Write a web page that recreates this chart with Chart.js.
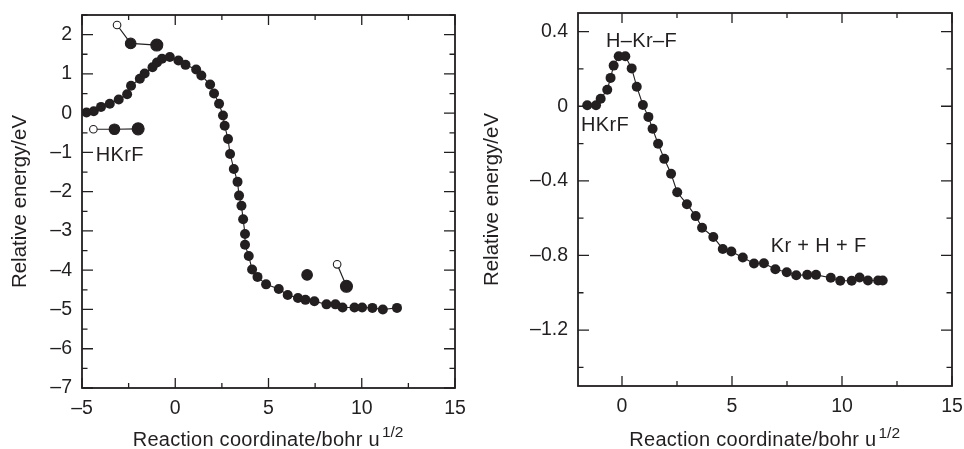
<!DOCTYPE html>
<html>
<head>
<meta charset="utf-8">
<title>HKrF reaction path</title>
<script src="https://cdn.jsdelivr.net/npm/chart.js@4"></script>
<style>
  html, body { margin: 0; padding: 0; background: #fff; }
  canvas { position: absolute; top: 0; }
  #leftChart { left: 0; }
  #rightChart { left: 470px; }
</style>
</head>
<body>
<canvas id="leftChart" width="470" height="449"></canvas>
<canvas id="rightChart" width="494" height="449"></canvas>
<script>
var ink = '#231f20';
var fontName = '"Liberation Sans", Arial, sans-serif';

// left panel, reaction path
var leftX = [-4.76, -4.37, -3.98, -3.51, -3.03, -2.58, -2.37, -1.90, -1.64, -1.22, -0.98, -0.71, -0.29, 0.17, 0.55, 1.12, 1.40, 1.87, 2.08, 2.35, 2.56, 2.65, 2.83, 2.94, 3.14, 3.34, 3.42, 3.55, 3.64, 3.74, 3.74, 3.94, 4.12, 4.41, 4.87, 5.55, 6.03, 6.58, 6.98, 7.46, 8.11, 8.59, 8.97, 9.61, 10.02, 10.57, 11.13, 11.89];
var leftY = [0.015, 0.05, 0.16, 0.24, 0.35, 0.48, 0.70, 0.875, 1.01, 1.17, 1.29, 1.385, 1.43, 1.34, 1.23, 1.11, 0.96, 0.73, 0.50, 0.24, -0.06, -0.32, -0.66, -1.04, -1.42, -1.75, -2.10, -2.36, -2.70, -3.08, -3.35, -3.64, -3.98, -4.17, -4.36, -4.48, -4.63, -4.71, -4.755, -4.79, -4.87, -4.87, -4.95, -4.95, -4.95, -4.96, -5.00, -4.96];

// left panel, little molecule sketches
var bentX = [-3.12, -2.39, -0.99];
var bentY = [2.245, 1.775, 1.735];
var linearX = [-4.39, -3.26, -1.99];
var linearY = [-0.41, -0.41, -0.40];
var krAtomX = [7.07];
var krAtomY = [-4.12];
var hfX = [8.68, 9.18];
var hfY = [-3.85, -4.41];

// right panel, reaction path
var rightX = [-1.58, -1.18, -0.97, -0.67, -0.52, -0.38, -0.15, 0.15, 0.44, 0.67, 0.95, 1.20, 1.39, 1.64, 1.92, 2.23, 2.51, 2.95, 3.35, 3.64, 4.15, 4.58, 4.97, 5.49, 6.00, 6.45, 6.97, 7.49, 7.92, 8.42, 8.82, 9.49, 9.92, 10.44, 10.80, 11.18, 11.64, 11.85];
var rightY = [0.005, 0.005, 0.04, 0.088, 0.152, 0.218, 0.268, 0.268, 0.203, 0.105, 0.007, -0.057, -0.121, -0.201, -0.282, -0.362, -0.461, -0.525, -0.589, -0.651, -0.701, -0.765, -0.779, -0.811, -0.843, -0.842, -0.874, -0.890, -0.906, -0.904, -0.904, -0.920, -0.936, -0.936, -0.918, -0.934, -0.934, -0.934];

var leftNotes = [
  { text: 'HKrF', x: -4.26, y: -1.09 }
];
var rightNotes = [
  { text: 'H\u2013Kr\u2013F', x: -0.73, y: 0.347 },
  { text: 'HKrF', x: -1.86, y: -0.103 },
  { text: 'Kr + H + F', x: 6.76, y: -0.752 }
];

var yTitle = 'Relative energy/eV';
var xTitle = 'Reaction coordinate/bohr u';
var xTitleSup = '1/2';

function pairs(xs, ys) {
  return xs.map(function (x, i) { return { x: x, y: ys[i] }; });
}

function curve(xs, ys) {
  return { data: pairs(xs, ys), showLine: true, borderColor: ink, borderWidth: 1.1, backgroundColor: ink,
    pointRadius: 5, pointBorderWidth: 0, pointBackgroundColor: ink, tension: 0 };
}

// atoms: H is open, Kr medium, F biggest
function molecule(xs, ys, radii, fills) {
  return { data: pairs(xs, ys), showLine: true, borderColor: ink, borderWidth: 1.2, tension: 0,
    pointRadius: radii, pointBackgroundColor: fills, pointBorderColor: ink, pointBorderWidth: 1.1 };
}

function isMultiple(v, step) {
  return Math.abs(v / step - Math.round(v / step)) < 1e-6;
}

function framePlugin(notes, cfg) {
  return {
    id: 'frame',
    afterDatasetsDraw: function (chart) {
      var c = chart.ctx, a = chart.chartArea;
      var sx = chart.scales.x, sy = chart.scales.y;
      c.save();
      c.strokeStyle = ink;
      c.fillStyle = ink;
      c.lineWidth = 1.3;
      c.beginPath();
      // inward ticks on all four sides
      sx.ticks.forEach(function (t) {
        if (!isMultiple(t.value, cfg.xMinor)) return;
        var len = t.label ? 10 : 5;
        var px = sx.getPixelForValue(t.value);
        c.moveTo(px, a.bottom); c.lineTo(px, a.bottom - len);
        c.moveTo(px, a.top); c.lineTo(px, a.top + len);
      });
      sy.ticks.forEach(function (t) {
        if (!isMultiple(t.value, cfg.yMinor)) return;
        var len = t.label ? 11 : 5.5;
        var py = sy.getPixelForValue(t.value);
        c.moveTo(a.left, py); c.lineTo(a.left + len, py);
        c.moveTo(a.right, py); c.lineTo(a.right - len, py);
      });
      c.stroke();
      c.lineWidth = 1.8;
      c.strokeRect(a.left, a.top, a.right - a.left, a.bottom - a.top);

      c.textBaseline = 'middle';
      c.textAlign = 'left';
      c.font = '20px ' + fontName;
      c.letterSpacing = '0.35px';
      notes.forEach(function (n) {
        c.fillText(n.text, sx.getPixelForValue(n.x), sy.getPixelForValue(n.y));
      });

      // x title by hand, chart.js titles cannot raise the 1/2
      c.textBaseline = 'alphabetic';
      c.letterSpacing = '0.27px';
      c.fillText(xTitle, cfg.xTitleLeft, cfg.xTitleY);
      var w = c.measureText(xTitle).width;
      c.letterSpacing = '0px';
      c.font = '15.5px ' + fontName;
      c.fillText(xTitleSup, cfg.xTitleLeft + w + 2, cfg.xTitleY - 8.5);
      c.restore();
    }
  };
}

function makePanel(id, datasets, notes, cfg) {
  return new Chart(document.getElementById(id).getContext('2d'), {
    type: 'scatter',
    data: { datasets: datasets },
    plugins: [framePlugin(notes, cfg)],
    options: {
      responsive: false,
      animation: false,
      layout: { padding: { top: cfg.top, right: cfg.right, left: 0, bottom: 0 } },
      plugins: { legend: { display: false }, tooltip: { enabled: false } },
      scales: {
        x: {
          type: 'linear', min: cfg.xMin, max: 15,
          grid: { display: false, drawTicks: false },
          border: { display: false },
          afterFit: function (s) { s.height = cfg.bottom; s.paddingLeft = 0; s.paddingRight = 0; },
          ticks: {
            stepSize: 2.5, autoSkip: false, maxRotation: 0, padding: 8.5, color: ink,
            font: { family: fontName, size: 19.5 },
            callback: function (v) { return isMultiple(v, 5) ? String(v).replace('-', '\u2013') : ''; }
          }
        },
        y: {
          type: 'linear', min: cfg.yMin, max: cfg.yMax,
          grid: { display: false, drawTicks: false },
          border: { display: false },
          title: {
            display: true, text: yTitle, color: ink,
            font: { family: fontName, size: 20.5 },
            padding: { top: cfg.yTitlePad, bottom: 0 }
          },
          afterFit: function (s) { s.width = cfg.left; s.paddingTop = 0; s.paddingBottom = 0; },
          ticks: {
            stepSize: cfg.yStep, autoSkip: false, padding: 10, color: ink,
            font: { family: fontName, size: 19.5 },
            callback: function (v) {
              if (!isMultiple(v, cfg.yMajor)) return '';
              var r = Math.round(v / cfg.yMajor) * cfg.yMajor;
              return (r === 0 ? '0' : r.toFixed(cfg.yDigits)).replace('-', '\u2013');
            }
          }
        }
      }
    }
  });
}

makePanel('leftChart', [
  curve(leftX, leftY),
  molecule(bentX, bentY, [3.8, 5.3, 6], ['#fff', ink, ink]),
  molecule(linearX, linearY, [3.8, 5.3, 6], ['#fff', ink, ink]),
  molecule(krAtomX, krAtomY, [5.3], [ink]),
  molecule(hfX, hfY, [3.8, 6], ['#fff', ink])
], leftNotes, {
  top: 15, right: 15, left: 82, bottom: 61,
  xMin: -5, xMinor: 2.5, yMin: -7, yMax: 2.5, yStep: 0.5, yMinor: 0.5, yMajor: 1, yDigits: 0,
  yTitlePad: 8, xTitleLeft: 132.7, xTitleY: 445.5
});

makePanel('rightChart', [
  curve(rightX, rightY)
], rightNotes, {
  top: 13, right: 12, left: 108, bottom: 63,
  xMin: -2, xMinor: 2.5, yMin: -1.5, yMax: 0.5, yStep: 0.1, yMinor: 0.2, yMajor: 0.4, yDigits: 1,
  yTitlePad: 10, xTitleLeft: 159.3, xTitleY: 446
});
</script>
</body>
</html>
